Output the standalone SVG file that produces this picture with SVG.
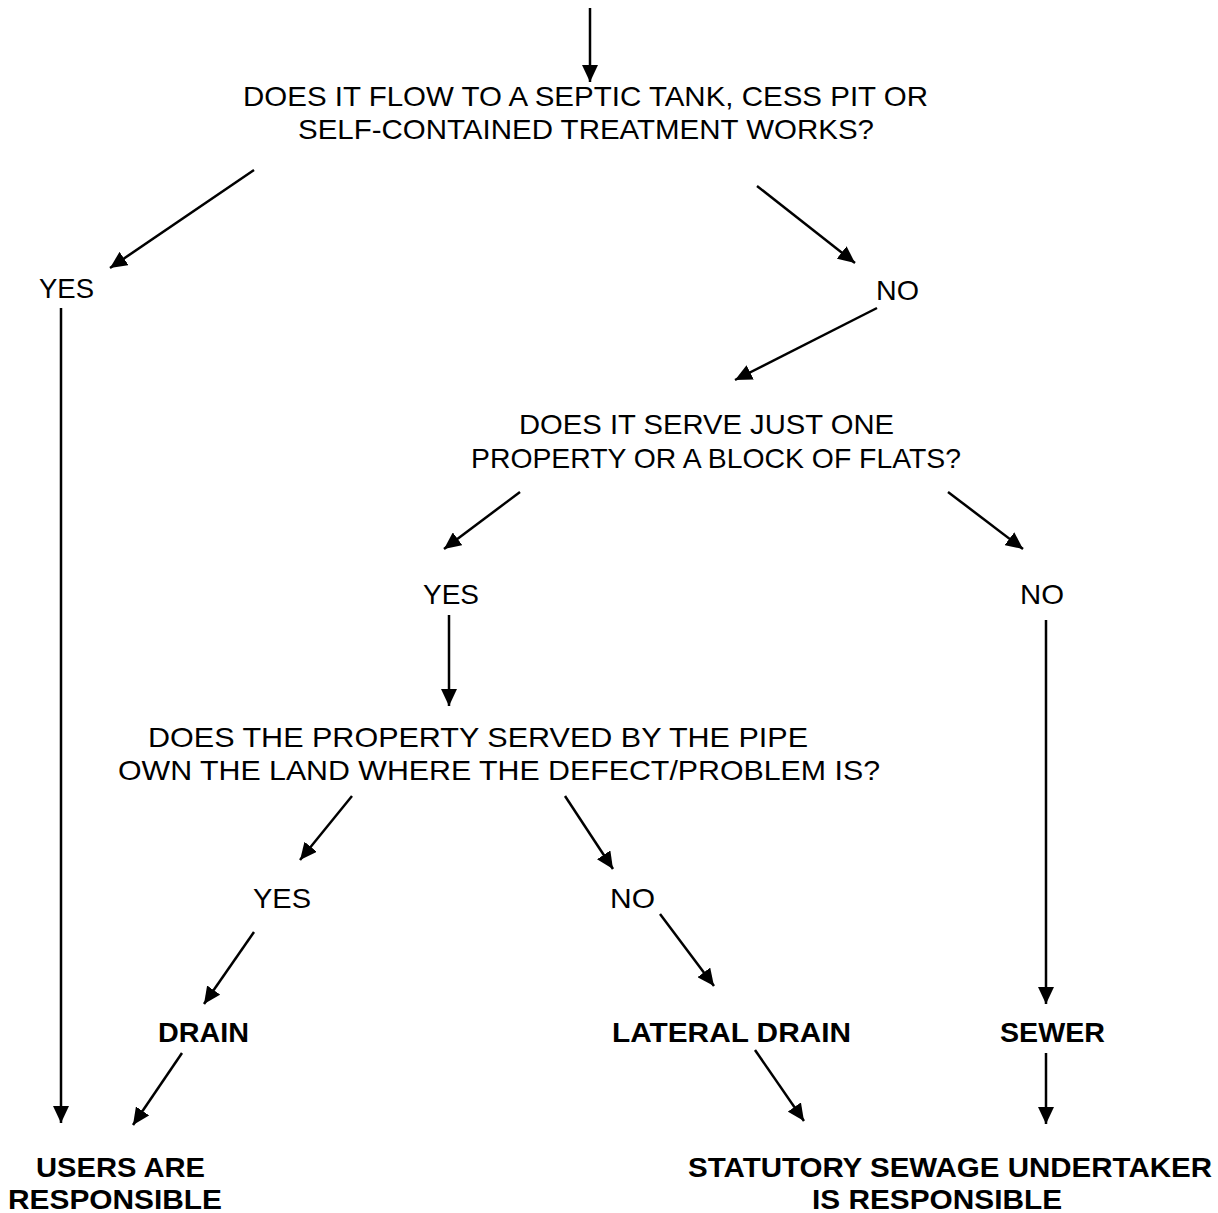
<svg xmlns="http://www.w3.org/2000/svg" width="1218" height="1213" viewBox="0 0 1218 1213">
<defs>
<marker id="ah" viewBox="0 0 17 16" refX="17" refY="8" markerWidth="17" markerHeight="16" markerUnits="userSpaceOnUse" orient="auto">
<path d="M0,0 L17,8 L0,16 z" fill="#000"/>
</marker>
<style>
.t{font-family:"Liberation Sans",Arial,sans-serif;font-size:28px;fill:#000}
.b{font-weight:bold}
.c line{stroke:#000;stroke-width:2.5;marker-end:url(#ah)}
</style>
</defs>
<rect width="1218" height="1213" fill="#fff"/>
<g class="c" id="connectors">
<line x1="590" y1="8" x2="590" y2="82"/>
<line x1="254" y1="170" x2="110" y2="268"/>
<line x1="757" y1="186" x2="855" y2="263"/>
<line x1="877" y1="308" x2="735" y2="380"/>
<line x1="61" y1="308" x2="61" y2="1123"/>
<line x1="520" y1="492" x2="444" y2="549"/>
<line x1="948" y1="492" x2="1023" y2="549"/>
<line x1="449" y1="615" x2="449" y2="706"/>
<line x1="1046" y1="620" x2="1046" y2="1004"/>
<line x1="352" y1="796" x2="300" y2="860"/>
<line x1="565" y1="796" x2="613" y2="869"/>
<line x1="254" y1="932" x2="204" y2="1004"/>
<line x1="660" y1="914" x2="714" y2="986"/>
<line x1="182" y1="1053" x2="133" y2="1125"/>
<line x1="755" y1="1050" x2="804" y2="1121"/>
<line x1="1046" y1="1053" x2="1046" y2="1124"/>
</g>
<g id="q1"><text class="t" x="243" y="106" textLength="685" lengthAdjust="spacingAndGlyphs">DOES IT FLOW TO A SEPTIC TANK, CESS PIT OR</text><text class="t" x="298" y="139" textLength="576" lengthAdjust="spacingAndGlyphs">SELF-CONTAINED TREATMENT WORKS?</text></g>
<g id="yes1"><text class="t" x="39" y="298" textLength="55" lengthAdjust="spacingAndGlyphs">YES</text></g>
<g id="no1"><text class="t" x="876" y="300" textLength="43" lengthAdjust="spacingAndGlyphs">NO</text></g>
<g id="q2"><text class="t" x="519" y="434" textLength="375" lengthAdjust="spacingAndGlyphs">DOES IT SERVE JUST ONE</text><text class="t" x="471" y="468" textLength="490" lengthAdjust="spacingAndGlyphs">PROPERTY OR A BLOCK OF FLATS?</text></g>
<g id="yes2"><text class="t" x="423" y="604" textLength="56" lengthAdjust="spacingAndGlyphs">YES</text></g>
<g id="no2"><text class="t" x="1020" y="604" textLength="44" lengthAdjust="spacingAndGlyphs">NO</text></g>
<g id="q3"><text class="t" x="148" y="747" textLength="660" lengthAdjust="spacingAndGlyphs">DOES THE PROPERTY SERVED BY THE PIPE</text><text class="t" x="118" y="780" textLength="762" lengthAdjust="spacingAndGlyphs">OWN THE LAND WHERE THE DEFECT/PROBLEM IS?</text></g>
<g id="yes3"><text class="t" x="253" y="908" textLength="58" lengthAdjust="spacingAndGlyphs">YES</text></g>
<g id="no3"><text class="t" x="610" y="908" textLength="45" lengthAdjust="spacingAndGlyphs">NO</text></g>
<g id="drain"><text class="t b" x="158" y="1042" textLength="91" lengthAdjust="spacingAndGlyphs">DRAIN</text></g>
<g id="lateral"><text class="t b" x="612" y="1042" textLength="239" lengthAdjust="spacingAndGlyphs">LATERAL DRAIN</text></g>
<g id="sewer"><text class="t b" x="1000" y="1042" textLength="105" lengthAdjust="spacingAndGlyphs">SEWER</text></g>
<g id="users"><text class="t b" x="36" y="1177" textLength="169" lengthAdjust="spacingAndGlyphs">USERS ARE</text><text class="t b" x="8" y="1209" textLength="214" lengthAdjust="spacingAndGlyphs">RESPONSIBLE</text></g>
<g id="statutory"><text class="t b" x="688" y="1177" textLength="524" lengthAdjust="spacingAndGlyphs">STATUTORY SEWAGE UNDERTAKER</text><text class="t b" x="812" y="1209" textLength="250" lengthAdjust="spacingAndGlyphs">IS RESPONSIBLE</text></g>
</svg>
